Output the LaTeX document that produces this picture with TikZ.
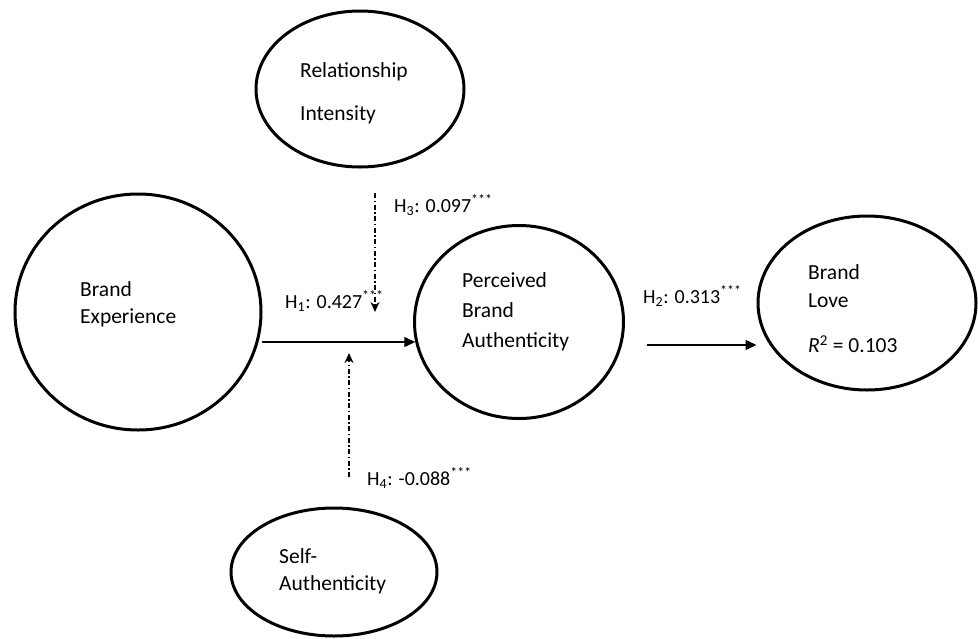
\documentclass[tikz,border=0pt]{standalone}
\usepackage{fontspec}
\setmainfont{Carlito}
\usepackage{tikz}
\usetikzlibrary{arrows.meta, positioning, shapes.geometric}

\begin{document}
\begin{tikzpicture}[
        x=1pt, y=-1pt,
        every node/.style={font=\fontsize{21.5}{27}\selectfont, inner sep=0pt},
        latent/.style={draw, ellipse, line width=3pt},
        txt/.style={anchor=west, align=left},
        hyp/.style={anchor=base west, font=\fontsize{20}{24}\selectfont},
        effect/.style={-{Triangle[length=11pt, width=10pt]}, line width=1.4pt},
        moder/.style={-{Stealth[length=10pt, width=9pt]}, line width=1.4pt,
                      dash pattern=on 5pt off 2.5pt on 1.5pt off 2.5pt},
      ]
        \useasboundingbox (0,0) rectangle (978,638);

        % constructs
        \node[latent, minimum width=208, minimum height=156] (ri)   at (360, 89) {};
        \node[latent, minimum width=246, minimum height=236] (bexp) at (138,312) {};
        \node[latent, minimum width=209, minimum height=193] (pba)  at (519,322) {};
        \node[latent, minimum width=218, minimum height=174] (bl)   at (867,303) {};
        \node[latent, minimum width=206, minimum height=128] (sa)   at (334,572) {};

        \node[txt] (riT)   at (300, 93) {Relationship\\[16pt]Intensity};
        \node[txt] (bexpT) at ( 80,304) {Brand\\Experience};
        \node[txt] (pbaT)  at (462,312) {Perceived\\[3pt]Brand\\[3pt]Authenticity};
        \node[txt] (blT)   at (808,309) {Brand\\[1pt]Love\\[18pt]\textit{R}\textsuperscript{2} = 0.103};
        \node[txt] (saT)   at (279,571) {Self-\\Authenticity};

        % loose ends of the paths
        \coordinate (h1a) at (262,342);
        \coordinate (h2a) at (647,345);
        \coordinate (h3a) at (375,193);
        \coordinate (h3b) at (375,312);
        \coordinate (h4a) at (349,477);
        \coordinate (h4b) at (349,353);

        \draw[effect] (h1a) -- (h1a -| pba.191);
        \draw[effect] (h2a) -- (h2a -| bl.west);
        \draw[moder]  (h3a) -- (h3b);
        \draw[moder]  (h4a) -- (h4b);

        % estimates
        \node[hyp] (h1) at (285,308) {H\textsubscript{1}: 0.427\textsuperscript{***}};
        \node[hyp] (h2) at (643,303) {H\textsubscript{2}: 0.313\textsuperscript{***}};
        \node[hyp] (h3) at (394,212) {H\textsubscript{3}: 0.097\textsuperscript{***}};
        \node[hyp] (h4) at (367,485) {H\textsubscript{4}: -0.088\textsuperscript{***}};
      \end{tikzpicture}
\end{document}
